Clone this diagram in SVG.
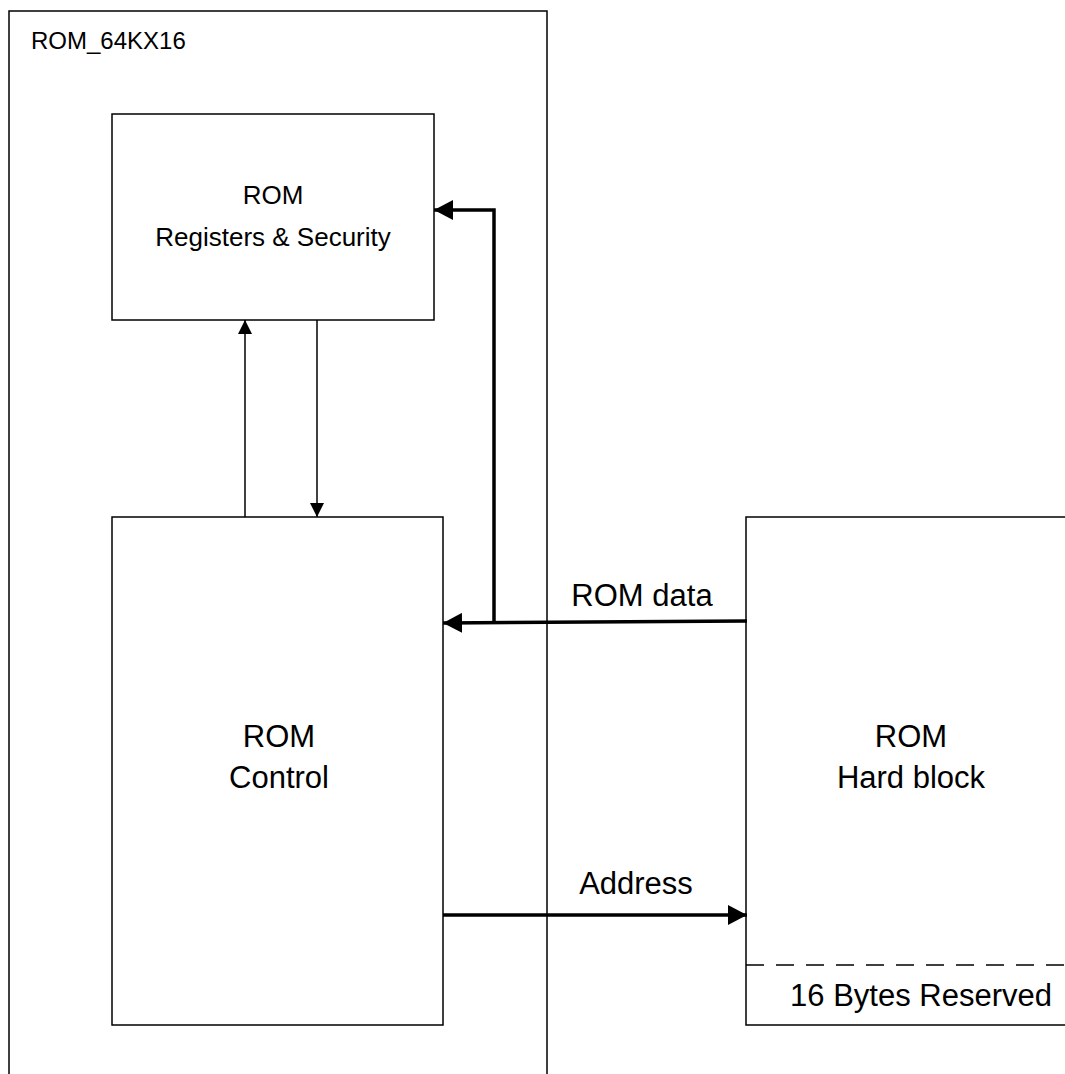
<svg xmlns="http://www.w3.org/2000/svg" width="1065" height="1074" viewBox="0 0 1065 1074">
<style>
.box{fill:#fff;stroke:#000;stroke-width:1.5}
.t{font-family:"Liberation Sans",Arial,sans-serif;fill:#000;text-anchor:middle}
.big{font-size:31px}
.thin{stroke:#000;stroke-width:1.5;fill:none}
.thick{stroke:#000;stroke-width:3.5;fill:none}
</style>
<defs>
<marker id="ah" markerUnits="userSpaceOnUse" markerWidth="14" markerHeight="14" refX="14" refY="7" orient="auto"><path d="M0,0 L14,7 L0,14 Z" fill="#000"/></marker>
<marker id="ahb" markerUnits="userSpaceOnUse" markerWidth="20" markerHeight="20" refX="19" refY="10" orient="auto"><path d="M0,0 L19,10 L0,20 Z" fill="#000"/></marker>
</defs>
<rect width="1065" height="1074" fill="#fff"/>
<g id="rom64k">
<path class="box" d="M9,1080 L9,11 L547,11 L547,1080" />
<text class="t" x="31" y="49" font-size="24" style="text-anchor:start">ROM_64KX16</text>
</g>
<g id="regs">
<rect class="box" x="112" y="114" width="322" height="206"/>
<text class="t" x="273" y="204" font-size="26">ROM</text>
<text class="t" x="273" y="246" font-size="26">Registers &amp; Security</text>
</g>
<g id="control">
<rect class="box" x="112" y="517" width="331" height="508"/>
<text class="t big" x="279" y="747">ROM</text>
<text class="t big" x="279" y="788">Control</text>
</g>
<g id="hardblock">
<path class="box" d="M1070,517 L746,517 L746,1025 L1070,1025"/>
<line x1="746" y1="965" x2="1065" y2="965" stroke="#000" stroke-width="1.5" stroke-dasharray="18,12"/>
<text class="t big" x="911" y="747">ROM</text>
<text class="t big" x="911" y="788">Hard block</text>
<text class="t big" x="921" y="1006">16 Bytes Reserved</text>
</g>
<g id="connectors">
<line class="thin" x1="245" y1="517" x2="245" y2="320" marker-end="url(#ah)"/>
<line class="thin" x1="317" y1="320" x2="317" y2="517" marker-end="url(#ah)"/>
<path class="thick" d="M494,623 L494,210 L434,210" marker-end="url(#ahb)"/>
<line class="thick" x1="747" y1="621" x2="443" y2="623" marker-end="url(#ahb)"/>
<line class="thick" x1="443" y1="915" x2="747" y2="915" marker-end="url(#ahb)"/>
<text class="t big" x="642" y="606">ROM data</text>
<text class="t big" x="636" y="894">Address</text>
</g>
</svg>
